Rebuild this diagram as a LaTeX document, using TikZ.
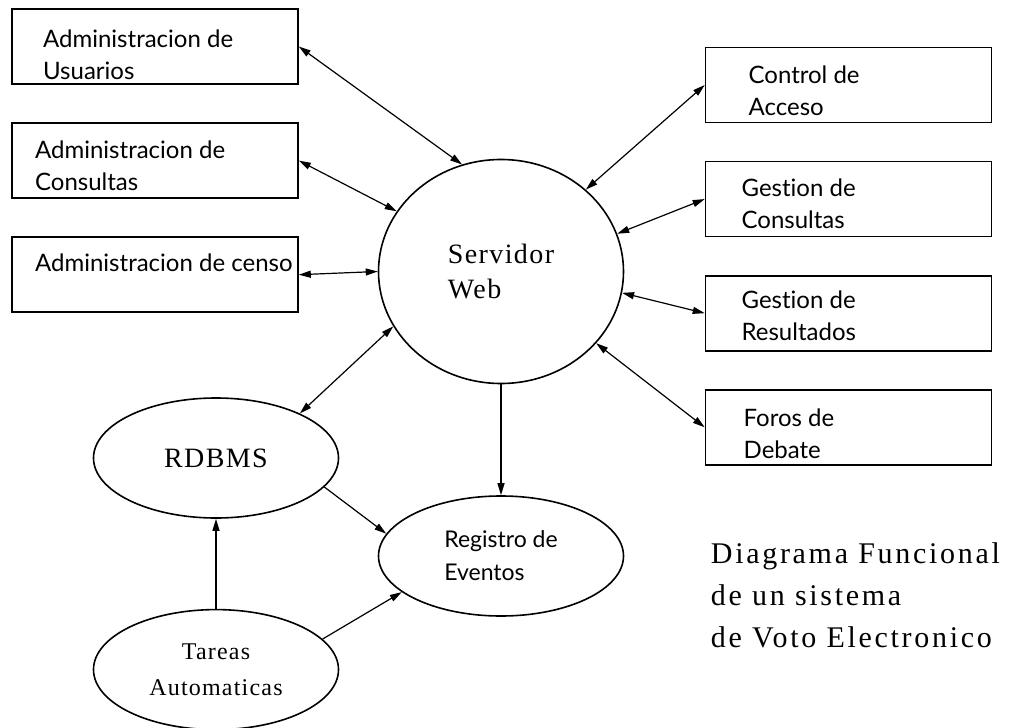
\documentclass[tikz,border=0pt]{standalone}
\usepackage{fontspec}
\setmainfont{Liberation Serif}
\newfontfamily\cajafont[Ligatures=NoCommon]{Lato}
\newfontfamily\servfont[LetterSpace=5]{Liberation Serif}
\newfontfamily\titfont[LetterSpace=9]{Liberation Serif}
\usetikzlibrary{positioning, shapes.geometric, arrows.meta}

\begin{document}
\begin{tikzpicture}[x=1pt, y=-1pt, line width=1.2pt,
    caja/.style={draw, rectangle, minimum width=286pt, minimum height=75pt, line width=1.6pt},
    rotulo/.style={anchor=base west, align=left, font=\cajafont\fontsize{24}{32}\selectfont},
    elipse/.style={draw, ellipse, minimum width=245pt, minimum height=120pt, inner sep=0pt, line width=1.6pt},
    flecha/.style={-{Triangle[length=12pt, width=7pt]}},
    doble/.style={{Triangle[length=12pt, width=7pt]}-{Triangle[length=12pt, width=7pt]}}]
  \useasboundingbox (0,0) rectangle (1023,728);
  % cajas izquierda
  \node[caja] (AdmUsr) at (155,46.5) {};
  \node[caja, below=37.5pt of AdmUsr] (AdmCons) {};
  \node[caja, below=37.5pt of AdmCons] (AdmCenso) {};
  % cajas derecha
  \node[caja] (CtrlAcc) at (848.5,85) {};
  \node[caja, below=37.5pt of CtrlAcc] (GesCons) {};
  \node[caja, below=37.5pt of GesCons] (GesRes) {};
  \node[caja, below=37.5pt of GesRes] (Foros) {};
  % textos de las cajas (base = ultima linea)
  \node[rotulo] (tAdmUsr) at ([shift={(28,71)}]AdmUsr.north west) {Administracion de\\Usuarios};
  \node[rotulo] (tAdmCons) at ([shift={(20,68)}]AdmCons.north west) {Administracion de\\Consultas};
  \node[rotulo] (tAdmCenso) at ([shift={(20,35)}]AdmCenso.north west) {Administracion de censo};
  \node[rotulo] (tCtrlAcc) at ([shift={(40,69)}]CtrlAcc.north west) {Control de\\Acceso};
  \node[rotulo] (tGesCons) at ([shift={(33,68)}]GesCons.north west) {Gestion de\\Consultas};
  \node[rotulo] (tGesRes) at ([shift={(33,66)}]GesRes.north west) {Gestion de\\Resultados};
  \node[rotulo] (tForos) at ([shift={(35,69)}]Foros.north west) {Foros de\\Debate};
  % elipses
  \node[elipse, minimum height=224pt, align=left, font=\servfont\fontsize{28}{35}\selectfont] (Serv) at (501,271.5) {Servidor\\Web};
  \node[elipse, font=\servfont\fontsize{28}{34}\selectfont] (RDBMS) at (216,458) {RDBMS};
  \node[elipse, below=90pt of RDBMS, align=center, font=\servfont\fontsize{24}{36}\selectfont] (Tareas) {Tareas\\Automaticas};
  \node[elipse, align=left, font=\cajafont\fontsize{23}{33}\selectfont] (Reg) at (501,556) {Registro de\\Eventos};
  \node[anchor=base west, align=left, font=\titfont\fontsize{30}{42}\selectfont] (Titulo) at (707,647) {Diagrama Funcional\\de un sistema\\de Voto Electronico};
  \foreach \u/\v in {AdmUsr.east/Serv.110, AdmCons.east/Serv.150, AdmCenso.east/Serv.180, RDBMS.28/Serv.207, Serv.44/CtrlAcc.west, Serv.18/GesCons.west, Serv.-10/GesRes.west, Serv.-37/Foros.west}
    \draw[doble] (\u) -- (\v);
  \foreach \u/\v in {Serv.south/Reg.north, RDBMS.-15/Reg.169, Tareas.north/RDBMS.south, Tareas.16/Reg.200}
    \draw[flecha] (\u) -- (\v);
\end{tikzpicture}
\end{document}
